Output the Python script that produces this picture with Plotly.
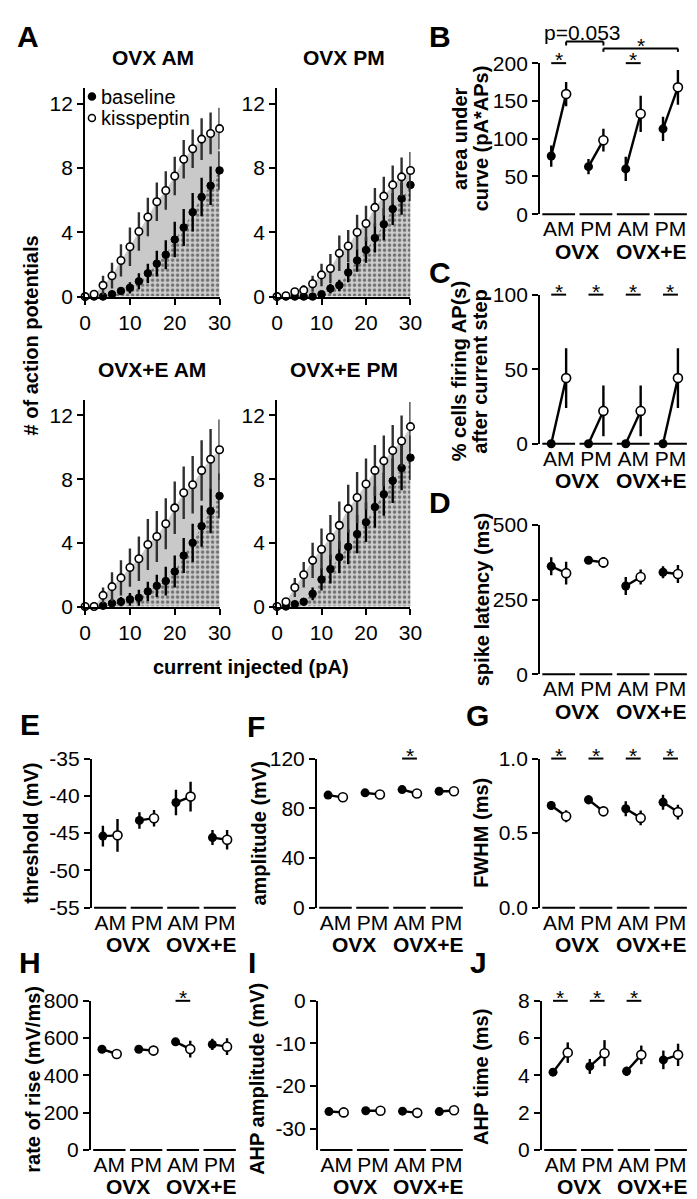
import plotly.graph_objects as go

W, H = 697, 1199
FONT = "Arial, 'Liberation Sans', Helvetica, sans-serif"
FS = 21        # tick labels / group labels / titles
FS_LAB = 20    # axis titles

# ---------------- data: panel A (number of APs vs injected current) ----------------
current_pA = [0, 2, 4, 6, 8, 10, 12, 14, 16, 18, 20, 22, 24, 26, 28, 30]

ovx_am_base = [0, 0, 0, 0.15, 0.35, 0.55, 0.95, 1.45, 2.05, 2.6, 3.55, 4.3, 5.25, 6.2, 6.9, 7.85]
ovx_am_base_sem = [0, 0, 0, 0.1, 0.2, 0.35, 0.5, 0.6, 0.8, 0.9, 1.1, 1.15, 1.2, 1.2, 1.2, 1.2]
ovx_am_kiss = [0, 0.15, 0.7, 1.3, 2.25, 3.1, 4.05, 4.95, 5.9, 6.6, 7.5, 8.55, 9.2, 9.8, 10.15, 10.45]
ovx_am_kiss_sem = [0, 0.2, 0.6, 0.8, 1.0, 1.2, 1.2, 1.2, 1.2, 1.2, 1.2, 1.2, 1.2, 1.3, 1.3, 1.3]

ovx_pm_base = [0, 0, 0, 0, 0, 0.15, 0.5, 0.7, 1.5, 2.25, 2.9, 3.65, 4.5, 5.45, 6.1, 6.95]
ovx_pm_base_sem = [0, 0, 0, 0, 0, 0.15, 0.3, 0.35, 0.6, 0.7, 0.8, 0.9, 1.0, 1.0, 1.0, 1.0]
ovx_pm_kiss = [0, 0.05, 0.3, 0.4, 0.8, 1.35, 1.75, 2.7, 3.15, 4.0, 4.55, 5.55, 6.25, 6.95, 7.45, 7.85]
ovx_pm_kiss_sem = [0, 0.05, 0.2, 0.3, 0.5, 0.7, 0.9, 1.1, 1.0, 1.1, 1.1, 1.2, 1.2, 1.2, 1.2, 1.15]

ovxe_am_base = [0, 0, 0.05, 0.2, 0.3, 0.45, 0.55, 0.95, 1.3, 1.6, 2.2, 3.2, 4.0, 5.05, 6.0, 6.95]
ovxe_am_base_sem = [0, 0, 0.05, 0.2, 0.3, 0.4, 0.5, 0.6, 0.7, 0.9, 1.0, 1.1, 1.2, 1.3, 1.4, 1.4]
ovxe_am_kiss = [0, 0, 0.7, 1.25, 1.8, 2.45, 3.0, 3.9, 4.4, 5.2, 6.2, 7.15, 7.65, 8.55, 9.25, 9.85]
ovxe_am_kiss_sem = [0, 0, 0.5, 0.9, 1.1, 1.2, 1.4, 1.6, 1.6, 1.6, 1.65, 1.65, 1.8, 1.9, 1.9, 1.9]

ovxe_pm_base = [0, 0, 0.15, 0.3, 0.8, 1.7, 2.35, 3.1, 3.75, 4.55, 5.3, 6.25, 7.05, 7.9, 8.7, 9.35]
ovxe_pm_base_sem = [0, 0, 0.1, 0.2, 0.4, 0.7, 0.9, 1.0, 1.1, 1.2, 1.25, 1.3, 1.35, 1.4, 1.4, 1.4]
ovxe_pm_kiss = [0, 0.3, 1.2, 2.0, 2.9, 3.6, 4.35, 5.1, 6.15, 6.85, 7.7, 8.55, 9.15, 9.8, 10.4, 11.3]
ovxe_pm_kiss_sem = [0, 0.2, 0.6, 0.8, 1.1, 1.3, 1.4, 1.5, 1.5, 1.6, 1.6, 1.6, 1.6, 1.6, 1.6, 1.55]

a_titles = ["OVX AM", "OVX PM", "OVX+E AM", "OVX+E PM"]
a_ticks_x = [0, 10, 20, 30]
a_ticks_y = [0, 4, 8, 12]
legend_names = ["baseline", "kisspeptin"]

# ---------------- data: panels B-J (groups) ----------------
group_labels = ["AM", "PM", "AM", "PM"]
model_labels = ["OVX", "OVX+E"]

auc_base = [77, 63, 60, 113]
auc_base_sem = [14, 10, 16, 16]
auc_kiss = [159, 98, 133, 168]
auc_kiss_sem = [16, 15, 24, 23]

pct_base = [0, 0, 0, 0]
pct_base_sem = [0, 0, 0, 0]
pct_kiss = [44, 22, 22, 44]
pct_kiss_sem = [20, 17, 17, 20]

lat_base = [362, 382, 296, 342]
lat_base_sem = [30, 10, 30, 20]
lat_kiss = [339, 375, 326, 336]
lat_kiss_sem = [38, 18, 25, 30]

thr_base = [-45.4, -43.3, -40.9, -45.6]
thr_base_sem = [1.4, 1.1, 1.7, 1.0]
thr_kiss = [-45.3, -43.0, -40.1, -45.9]
thr_kiss_sem = [2.2, 1.1, 2.0, 1.3]

amp_base = [90.6, 92.4, 95.0, 93.7]
amp_base_sem = [1.5, 1.5, 1.5, 1.5]
amp_kiss = [88.8, 91.1, 91.9, 93.7]
amp_kiss_sem = [1.5, 1.5, 1.5, 1.5]

fwhm_base = [0.685, 0.724, 0.663, 0.707]
fwhm_base_sem = [0.03, 0.03, 0.05, 0.05]
fwhm_kiss = [0.613, 0.646, 0.602, 0.641]
fwhm_kiss_sem = [0.04, 0.03, 0.05, 0.05]

ror_base = [540, 540, 580, 566]
ror_base_sem = [20, 15, 20, 30]
ror_kiss = [515, 533, 541, 554]
ror_kiss_sem = [25, 10, 45, 45]

ahpa_base = [-26.0, -25.8, -25.9, -26.0]
ahpa_base_sem = [0.5, 0.4, 0.5, 0.6]
ahpa_kiss = [-26.2, -25.8, -26.3, -25.7]
ahpa_kiss_sem = [0.5, 0.4, 0.8, 0.5]

ahpt_base = [4.17, 4.48, 4.22, 4.83]
ahpt_base_sem = [0.15, 0.4, 0.25, 0.5]
ahpt_kiss = [5.22, 5.19, 5.1, 5.1]
ahpt_kiss_sem = [0.55, 0.7, 0.5, 0.6]

# ---------------- layout helpers ----------------
def dom_x(x0, x1):
    return [x0 / W, x1 / W]

def dom_y(top, bottom):
    return [1 - bottom / H, 1 - top / H]

def names(k):
    s = "" if k == 1 else str(k)
    return "x" + s, "y" + s, "xaxis" + s, "yaxis" + s

fig = go.Figure()
layout = {}
shapes = []
annotations = []

def bold(t):
    return "<b>" + t + "</b>"

def add_text(t, x, y, size=FS, angle=0, b=True, xanchor="center"):
    annotations.append(dict(text=bold(t) if b else t, x=x / W, y=1 - y / H, xref="paper", yref="paper",
                            showarrow=False, xanchor=xanchor, yanchor="middle", textangle=angle,
                            borderpad=0, font=dict(size=size, family=FONT, color="black")))

axis_common = dict(showgrid=False, zeroline=False, showline=True, linewidth=2, linecolor="black",
                   ticks="outside", ticklen=6, tickwidth=2, tickcolor="black",
                   tickfont=dict(size=FS, family=FONT, color="black"), fixedrange=True)

# ---------------- panel A ----------------
a_data = [
    (ovx_am_base, ovx_am_base_sem, ovx_am_kiss, ovx_am_kiss_sem),
    (ovx_pm_base, ovx_pm_base_sem, ovx_pm_kiss, ovx_pm_kiss_sem),
    (ovxe_am_base, ovxe_am_base_sem, ovxe_am_kiss, ovxe_am_kiss_sem),
    (ovxe_pm_base, ovxe_pm_base_sem, ovxe_pm_kiss, ovxe_pm_kiss_sem),
]
a_boxes = [(73, 211, 69, 282), (270, 407, 69, 282), (73, 211, 387, 598), (270, 407, 387, 598)]
a_title_pos = [(143, 38), (339, 38), (142, 356), (339, 356)]

k = 0
for i, (base, base_sem, kiss, kiss_sem) in enumerate(a_data):
    k += 1
    xn, yn, xan, yan = names(k)
    x0, x1, top, bot = a_boxes[i]
    layout[xan] = dict(axis_common, domain=dom_x(x0, x1), anchor=yn, range=[0, 30], tickvals=a_ticks_x)
    layout[yan] = dict(axis_common, domain=dom_y(top, bot), anchor=xn, range=[0, 13], tickvals=a_ticks_y)
    fig.add_trace(go.Scatter(x=current_pA, y=kiss, mode="none", fill="tozeroy", fillcolor="#c9c9c9",
                             xaxis=xn, yaxis=yn, showlegend=False, hoverinfo="skip"))
    fig.add_trace(go.Scatter(x=current_pA, y=base, mode="none", fill="tozeroy",
                             fillpattern=dict(shape=".", bgcolor="#cdcdcd", fgcolor="#111111", size=5, solidity=0.38),
                             xaxis=xn, yaxis=yn, showlegend=False, hoverinfo="skip"))
    fig.add_trace(go.Scatter(x=current_pA, y=base, mode="markers", name=legend_names[0],
                             marker=dict(symbol="circle", size=7.5, color="black", line=dict(color="black", width=1)),
                             error_y=dict(type="data", array=base_sem, color="black", thickness=2.4, width=0),
                             xaxis=xn, yaxis=yn, cliponaxis=False, showlegend=False))
    fig.add_trace(go.Scatter(x=current_pA, y=kiss, mode="markers", name=legend_names[1],
                             marker=dict(symbol="circle", size=7.5, color="white", line=dict(color="black", width=1.6)),
                             error_y=dict(type="data", array=kiss_sem, color="#303030", thickness=2.4, width=0),
                             xaxis=xn, yaxis=yn, cliponaxis=False, showlegend=False))
    add_text(a_titles[i], *a_title_pos[i])

# legend of panel A (symbols + labels)
for j, (nm, fc) in enumerate(zip(legend_names, ["black", "white"])):
    cy = 78 + 22 * j
    shapes.append(dict(type="circle", xref="paper", yref="paper",
                       x0=(80 - 3.6) / W, x1=(80 + 3.6) / W, y0=1 - (cy + 3.6) / H, y1=1 - (cy - 3.6) / H,
                       fillcolor=fc, line=dict(color="black", width=1.5)))
    add_text(nm, 88, cy, size=20, b=False, xanchor="left")

add_text("# of action potentials", 17, 322, size=FS_LAB, angle=-90)
add_text("current injected (pA)", 243, 660, size=FS_LAB)

# ---------------- panels B-J ----------------
g_panels = [
    dict(base=auc_base, bsem=auc_base_sem, kiss=auc_kiss, ksem=auc_kiss_sem, rng=[0, 200],
         tv=[0, 50, 100, 150, 200], tt=None, sig=[0, 2], box=(540, 693, 44, 198),
         ylab=["area under", "curve (pA*APs)"], ylab_x=[457, 479], ylab_y=121),
    dict(base=pct_base, bsem=pct_base_sem, kiss=pct_kiss, ksem=pct_kiss_sem, rng=[0, 100],
         tv=[0, 50, 100], tt=None, sig=[0, 1, 2, 3], box=(540, 693, 280, 432),
         ylab=["% cells firing AP(s)", "after current step"], ylab_x=[457, 479], ylab_y=358),
    dict(base=lat_base, bsem=lat_base_sem, kiss=lat_kiss, ksem=lat_kiss_sem, rng=[0, 500],
         tv=[0, 250, 500], tt=None, sig=[], box=(540, 693, 515, 667),
         ylab=["spike latency (ms)"], ylab_x=[480], ylab_y=591),
    dict(base=thr_base, bsem=thr_base_sem, kiss=thr_kiss, ksem=thr_kiss_sem, rng=[-55, -35],
         tv=[-55, -50, -45, -40, -35], tt=["-55", "-50", "-45", "-40", "-35"], sig=[], box=(80, 230, 753, 905),
         ylab=["threshold (mV)"], ylab_x=[18], ylab_y=829),
    dict(base=amp_base, bsem=amp_base_sem, kiss=amp_kiss, ksem=amp_kiss_sem, rng=[0, 120],
         tv=[0, 40, 80, 120], tt=None, sig=[2], box=(311, 463, 753, 905),
         ylab=["amplitude (mV)"], ylab_x=[252], ylab_y=829),
    dict(base=fwhm_base, bsem=fwhm_base_sem, kiss=fwhm_kiss, ksem=fwhm_kiss_sem, rng=[0, 1.0],
         tv=[0, 0.5, 1.0], tt=["0.0", "0.5", "1.0"], sig=[0, 1, 2, 3], box=(540, 693, 753, 905),
         ylab=["FWHM (ms)"], ylab_x=[479], ylab_y=829),
    dict(base=ror_base, bsem=ror_base_sem, kiss=ror_kiss, ksem=ror_kiss_sem, rng=[0, 800],
         tv=[0, 200, 400, 600, 800], tt=None, sig=[2], box=(79, 230, 1000, 1152),
         ylab=["rate of rise (mV/ms)"], ylab_x=[20], ylab_y=1080),
    dict(base=ahpa_base, bsem=ahpa_base_sem, kiss=ahpa_kiss, ksem=ahpa_kiss_sem, rng=[-35, 0],
         tv=[-30, -20, -10, 0], tt=["-30", "-20", "-10", "0"], sig=[], box=(312, 463, 1000, 1152),
         ylab=["AHP amplitude (mV)"], ylab_x=[250], ylab_y=1080),
    dict(base=ahpt_base, bsem=ahpt_base_sem, kiss=ahpt_kiss, ksem=ahpt_kiss_sem, rng=[0, 8],
         tv=[0, 2, 4, 6, 8], tt=None, sig=[0, 1, 2], box=(542, 693, 1000, 1152),
         ylab=["AHP time (ms)"], ylab_x=[480], ylab_y=1078),
]

OFF = 0.2
gpos = list(range(len(group_labels)))
for p in g_panels:
    k += 1
    xn, yn, xan, yan = names(k)
    x0, x1, top, bot = p["box"]
    layout[xan] = dict(axis_common, domain=dom_x(x0, x1), anchor=yn, range=[-0.5, 3.5], showline=False,
                       ticks="", tickvals=gpos, ticktext=group_labels)
    ya = dict(axis_common, domain=dom_y(top, bot), anchor=xn, range=p["rng"], tickvals=p["tv"])
    if p["tt"] is not None:
        ya["ticktext"] = p["tt"]
    layout[yan] = ya
    for g in gpos:
        fig.add_trace(go.Scatter(x=[g - OFF, g + OFF], y=[p["base"][g], p["kiss"][g]], mode="lines",
                                 line=dict(color="black", width=2.4), xaxis=xn, yaxis=yn,
                                 showlegend=False, hoverinfo="skip", cliponaxis=False))
        shapes.append(dict(type="line", xref=xn, yref=yn + " domain", x0=g - 0.44, x1=g + 0.44, y0=0, y1=0,
                           line=dict(color="black", width=2)))
    fig.add_trace(go.Scatter(x=[g - OFF for g in gpos], y=p["base"], mode="markers",
                             marker=dict(symbol="circle", size=9, color="black"),
                             error_y=dict(type="data", array=p["bsem"], color="black", thickness=2.4, width=0),
                             xaxis=xn, yaxis=yn, cliponaxis=False, showlegend=False))
    fig.add_trace(go.Scatter(x=[g + OFF for g in gpos], y=p["kiss"], mode="markers",
                             marker=dict(symbol="circle", size=9, color="white", line=dict(color="black", width=1.6)),
                             error_y=dict(type="data", array=p["ksem"], color="black", thickness=2.4, width=0),
                             xaxis=xn, yaxis=yn, cliponaxis=False, showlegend=False))
    for g in p["sig"]:
        shapes.append(dict(type="line", xref=xn, yref=yn + " domain", x0=g - OFF, x1=g + OFF, y0=1.0, y1=1.0,
                           line=dict(color="black", width=2)))
        annotations.append(dict(text="*", x=g, y=1.0, xref=xn, yref=yn + " domain", showarrow=False,
                                yanchor="bottom", yshift=-10, font=dict(size=FS, family=FONT, color="black")))
    for j, lab in enumerate(model_labels):
        annotations.append(dict(text=bold(lab), x=2 * j + 0.5, y=0, xref=xn, yref=yn + " domain",
                                showarrow=False, yanchor="middle", yshift=-37, borderpad=0,
                                font=dict(size=FS, family=FONT, color="black")))
    for t, lx in zip(p["ylab"], p["ylab_x"]):
        add_text(t, lx, p["ylab_y"], size=FS_LAB, angle=-90)

    if k == 5:  # panel B comparison brackets
        xb = "x5"
        yb = "y5 domain"
        for (xa_, xb_, yl, tick, lab, lx) in [(0 + OFF, 1 + OFF, 1.143, 0.026, "p=0.053", 0.65),
                                               (1 + OFF, 3 + OFF, 1.097, 0.022, "*", 2.2)]:
            shapes.append(dict(type="line", xref=xb, yref=yb, x0=xa_, x1=xb_, y0=yl, y1=yl,
                               line=dict(color="black", width=2)))
            for xe in (xa_, xb_):
                shapes.append(dict(type="line", xref=xb, yref=yb, x0=xe, x1=xe, y0=yl, y1=yl - tick,
                                   line=dict(color="black", width=2)))
            annotations.append(dict(text=lab, x=lx, y=yl, xref=xb, yref=yb, showarrow=False,
                                    yanchor="bottom", yshift=(-10 if lab == "*" else -4),
                                    font=dict(size=FS, family=FONT, color="black")))

# panel letters
for lt, (lx, ly) in zip("ABCDEFGHIJ", [(14, 17), (437, 17), (437, 257), (437, 492), (16, 718),
                                      (248, 720), (476, 709), (16, 961), (244, 961), (477, 961)]):
    add_text(lt, lx, ly, size=30)

layout.update(dict(
    width=W, height=H, margin=dict(l=0, r=0, t=0, b=0),
    paper_bgcolor="white", plot_bgcolor="white",
    font=dict(family=FONT, size=FS, color="black"),
    showlegend=False,
    shapes=shapes, annotations=annotations,
))
fig.update_layout(**layout)
fig.write_html("out.html")
